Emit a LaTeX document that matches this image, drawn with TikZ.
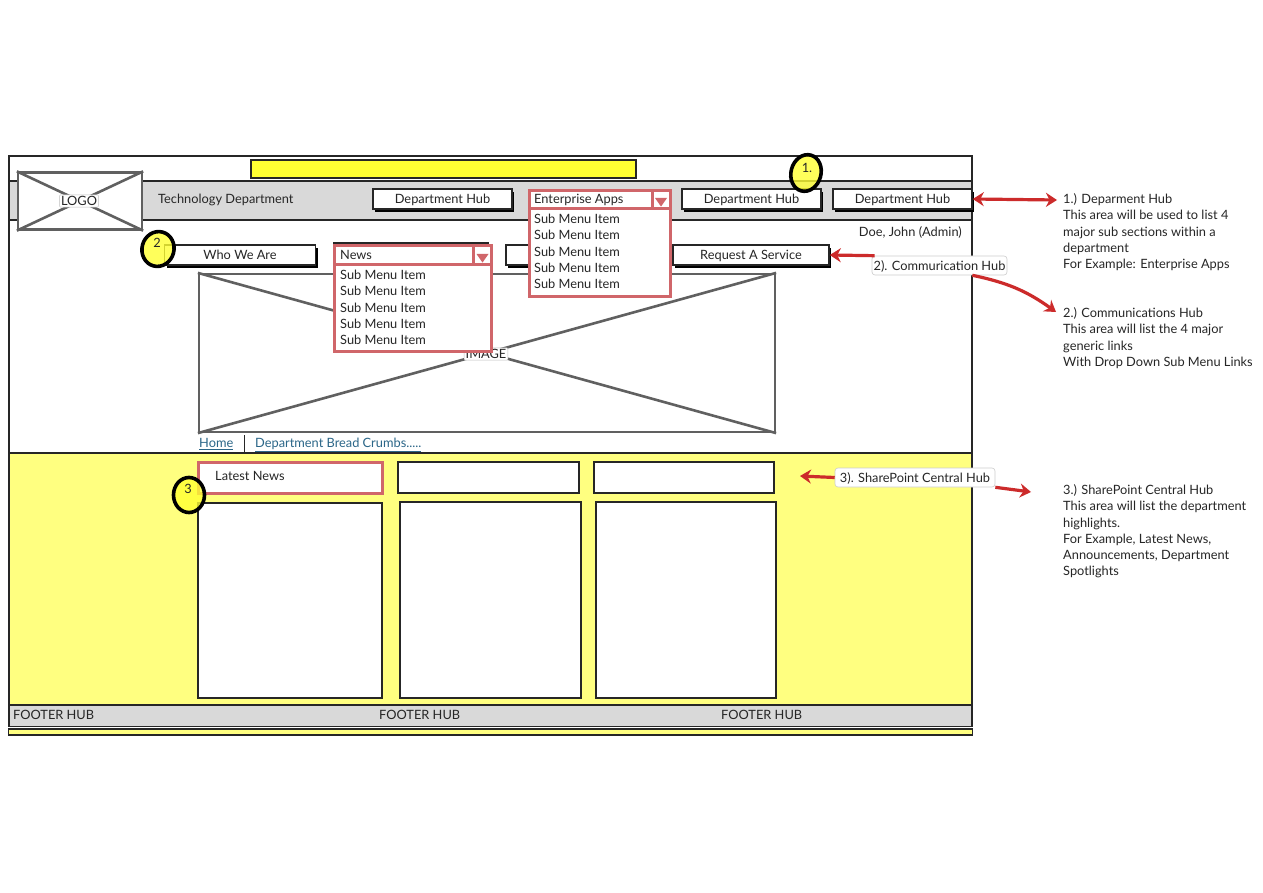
\documentclass[tikz,border=0pt]{standalone}
\usepackage{fontspec}
\setmainfont{Lato}
\usetikzlibrary{shapes.geometric,shadows,arrows.meta}

\definecolor{panelyellow}{HTML}{FFFF80}
\definecolor{baryellow}{HTML}{FFFF33}
\definecolor{bargray}{HTML}{D9D9D9}
\definecolor{menured}{HTML}{D0666A}
\definecolor{arrowred}{HTML}{CC2B2B}
\definecolor{crossgray}{HTML}{606060}
\definecolor{linkblue}{HTML}{2B6688}

\tikzset{
    txt/.style={font=\fontsize{12.8}{16.2}\selectfont, inner sep=0pt, text=black!85, text depth=0pt},
    band/.style={draw=black!85, line width=1.2pt, inner sep=0pt},
    hub/.style={band, fill=white, txt, line width=1.6pt, general shadow={fill=black, shadow xshift=2pt, shadow yshift=-3.5pt}},
    menubox/.style={draw=menured, line width=3pt, fill=white, inner sep=0pt},
    menutxt/.style={txt, align=left, anchor=north west},
    panel/.style={draw=black!85, line width=1.4pt, fill=white, inner sep=0pt},
    imgbox/.style={draw=crossgray, line width=2.2pt, fill=white, inner sep=0pt},
    cross/.style={draw=crossgray, line width=2.6pt},
    tag/.style={txt, draw=black!25, line width=0.5pt, fill=white, rounded corners=1pt, inner sep=1.5pt},
    callout/.style={txt, draw=black!20, line width=0.6pt, fill=white, rounded corners=3pt, minimum height=19pt},
    badge/.style={ellipse, draw=black, line width=3.6pt, fill=baryellow, fill opacity=0.8, inner sep=0pt},
    note/.style={txt, align=left, anchor=north west},
    redarrow/.style={draw=arrowred, line width=3.2pt, -{Stealth[length=11pt,width=14pt]}},
    twoway/.style={draw=arrowred, line width=3.2pt, {Stealth[length=11pt,width=14pt]}-{Stealth[length=11pt,width=14pt]}},
}

\begin{document}
\begin{tikzpicture}[x=1pt,y=-1pt]
    \useasboundingbox (0,0) rectangle (1263,893);
    \fill[white] (0,0) rectangle (1263,893);

    % page
    \node[panel, minimum width=963pt, minimum height=297pt] (Page) at (490.5,304.5) {};
    \node[band, fill=baryellow, minimum width=385pt, minimum height=18pt] (TitleBar) at (443.5,169) {};
    \node[band, fill=bargray, minimum width=963pt, minimum height=39pt] (Header) at (490.5,200.5) {};
    \node[band, fill=panelyellow, minimum width=963pt, minimum height=252pt] (Content) at (490.5,579) {};
    \node[band, fill=panelyellow, minimum width=964pt, minimum height=6pt] (Strip) at (490.5,732) {};
    \node[band, fill=bargray, minimum width=963pt, minimum height=21pt] (Footer) at (490.5,716) {};

    % logo
    \node[imgbox, minimum width=124pt, minimum height=57pt] (Logo) at (80,201) {};
    \draw[cross] (Logo.north west) -- (Logo.south east);
    \draw[cross] (Logo.south west) -- (Logo.north east);
    \node[tag] (LogoText) at (79,201) {LOGO};

    \node[txt, anchor=west] (Dept) at (158,199) {Technology Department};
    \node[txt, anchor=east] (UserName) at (962,232) {Doe, John (Admin)};

    % hubs
    \node[hub, minimum width=139pt, minimum height=20pt] (HubA) at (442.5,199) {Department Hub};
    \node[hub, minimum width=139pt, minimum height=20pt] (HubB) at (751.5,199) {Department Hub};
    \node[hub, minimum width=139pt, minimum height=20pt] (HubC) at (902.5,199) {Department Hub};

    % communication links
    \node[hub, minimum width=151pt, minimum height=20pt] (WhoWeAre) at (240,255) {Who We Are};
    \node[hub, minimum width=154pt, minimum height=20pt] (NewsBack) at (411,253) {};
    \node[hub, minimum width=40pt, minimum height=20pt] (ThirdLink) at (526,255) {};
    \node[hub, minimum width=156pt, minimum height=20pt] (Service) at (751,255) {Request A Service};

    % image
    \node[imgbox, minimum width=576pt, minimum height=158pt] (Image) at (487,353) {};
    \draw[cross] (Image.north west) -- (Image.south east);
    \draw[cross] (Image.south west) -- (Image.north east);
    \node[tag] (ImageText) at (486,354) {IMAGE};

    % menus
    \node[menubox, minimum width=141pt, minimum height=105pt] (EntMenu) at (599.5,243.5) {};
    \node[menubox, minimum width=141pt, minimum height=18pt] (EntHead) at (599.5,200) {};
    \node[menubox, minimum width=18pt, minimum height=18pt] (EntDrop) at (661,200) {};
    \node[isosceles triangle, isosceles triangle apex angle=70, shape border rotate=-90, fill=menured, inner sep=2.5pt] (EntArrow) at (661,200.5) {};
    \node[txt, anchor=west] (EntText) at (534,199) {Enterprise Apps};
    \node[menutxt] (EntItems) at (534,214) {Sub Menu Item\\Sub Menu Item\\Sub Menu Item\\Sub Menu Item\\Sub Menu Item};

    \node[menubox, minimum width=157pt, minimum height=105pt] (NewsMenu) at (412.5,298.5) {};
    \node[menubox, minimum width=157pt, minimum height=19pt] (NewsHead) at (412.5,255.5) {};
    \node[menubox, minimum width=18pt, minimum height=19pt] (NewsDrop) at (482.5,255.5) {};
    \node[isosceles triangle, isosceles triangle apex angle=70, shape border rotate=-90, fill=menured, inner sep=2.5pt] (NewsArrow) at (482.5,256.5) {};
    \node[txt, anchor=west] (NewsText) at (340,255) {News};
    \node[menutxt] (NewsItems) at (340,270) {Sub Menu Item\\Sub Menu Item\\Sub Menu Item\\Sub Menu Item\\Sub Menu Item};

    % bread crumbs
    \node[txt, anchor=west, text=linkblue] (Home) at (199,443) {\underline{Home}};
    \node[txt, anchor=west, text=linkblue] (Crumbs) at (255,443) {\underline{Department Bread Crumbs.....}};
    \coordinate (SepTop) at (244,435);
    \coordinate (SepBottom) at (244,452);
    \draw[black!85, line width=1pt] (SepTop) -- (SepBottom);

    % central hub
    \node[menubox, minimum width=184pt, minimum height=31pt] (NewsTitle) at (290,477.5) {};
    \node[txt, anchor=west] (NewsTitleText) at (215,476) {Latest News};
    \node[panel, minimum width=181pt, minimum height=31pt] (TitleB) at (488.5,477.5) {};
    \node[panel, minimum width=180pt, minimum height=31pt] (TitleC) at (684,477.5) {};
    \node[panel, minimum width=184pt, minimum height=195pt] (PanelA) at (290,600.5) {};
    \node[panel, minimum width=181pt, minimum height=196pt] (PanelB) at (490.5,600) {};
    \node[panel, minimum width=180pt, minimum height=196pt] (PanelC) at (686,600) {};

    % footer
    \node[txt, anchor=west] (FootA) at (13,715) {FOOTER HUB};
    \node[txt, anchor=west] (FootB) at (379,715) {FOOTER HUB};
    \node[txt, anchor=west] (FootC) at (721,715) {FOOTER HUB};

    % badges
    \node[badge, minimum width=30pt, minimum height=37pt, rotate=-15] (BadgeOne) at (806,173) {};
    \node[txt] (BadgeOneText) at (807,168) {1.};
    \node[badge, minimum width=32pt, minimum height=35pt, rotate=-15] (BadgeTwo) at (158,249) {};
    \node[txt] (BadgeTwoText) at (157,243) {2};
    \node[badge, minimum width=31pt, minimum height=35pt] (BadgeThree) at (189,495) {};
    \node[txt] (BadgeThreeText) at (188,488.5) {3};

    % callouts
    \coordinate (TipOne) at (1057,200);
    \coordinate (TipTwo) at (1056,312);
    \coordinate (TipThreeL) at (800,476);
    \coordinate (TipThreeR) at (1031,492);
    \node[callout, minimum width=135pt] (CallTwo) at (939.5,265.5) {2). Commurication Hub};
    \node[callout, minimum width=160pt] (CallThree) at (915,477.5) {3). SharePoint Central Hub};

    \draw[twoway] (HubC.east) -- (TipOne);
    \draw[redarrow] (CallTwo.north west) ++(3,0) coordinate (CallTwoOut) (CallTwoOut) -- (Service.east);
    \draw[redarrow] (CallTwo.south east) ++(-35,0) coordinate (CallTwoDown) (CallTwoDown) to[bend left=12] (TipTwo);
    \draw[redarrow] (CallThree.west) -- (TipThreeL);
    \draw[redarrow] (CallThree.south east) -- (TipThreeR);

    % notes
    \node[note] (NoteOne) at (1063,193.5) {1.) Deparment Hub\\This area will be used to list 4\\major sub sections within a\\department\\For Example: Enterprise Apps};
    \node[note] (NoteTwo) at (1063,307.5) {2.) Communications Hub\\This area will list the 4 major\\generic links\\With Drop Down Sub Menu Links};
    \node[note] (NoteThree) at (1063,484.5) {3.) SharePoint Central Hub\\This area will list the department\\highlights.\\For Example, Latest News,\\Announcements, Department\\Spotlights};
\end{tikzpicture}
\end{document}
